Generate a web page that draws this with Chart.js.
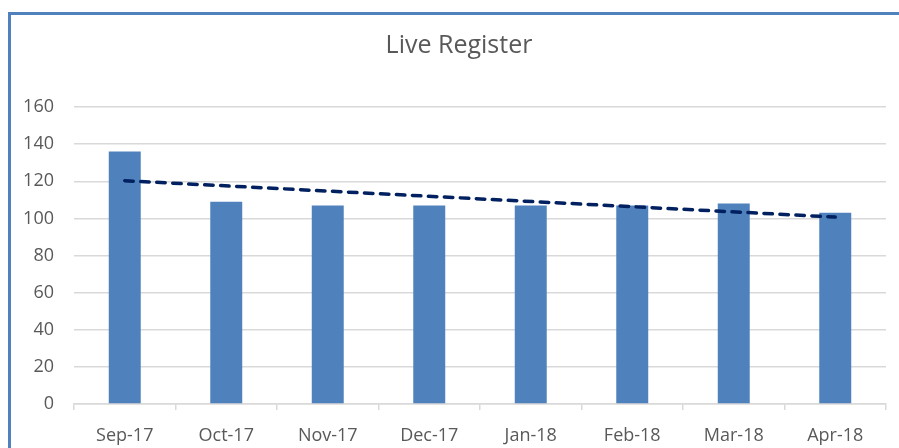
<!DOCTYPE html>
<html>
<head>
<meta charset="utf-8">
<script src="https://cdn.jsdelivr.net/npm/chart.js@4"></script>
<style>
  html, body { margin: 0; padding: 0; background: #ffffff; overflow: hidden; }
  #wrap { position: relative; width: 899px; height: 448px; overflow: hidden; }
  #frame { position: absolute; left: 8px; top: 12px; width: 1000px; height: 1000px;
           border: 3px solid #4F81BD; box-sizing: border-box; pointer-events: none; }
  canvas { position: absolute; left: 0; top: 0; }
</style>
</head>
<body>
<div id="wrap">
  <canvas id="c" width="899" height="448"></canvas>
  <div id="frame"></div>
</div>
<script>
const categories = ["Sep-17", "Oct-17", "Nov-17", "Dec-17", "Jan-18", "Feb-18", "Mar-18", "Apr-18"];
const liveRegister = [136, 109, 107, 107, 107, 107, 108, 103];
// linear trendline endpoints
const trendline = [120.3, null, null, null, null, null, null, 100.7];
const yTicks = { min: 0, max: 160, step: 20 };
const chartTitle = "Live Register";

const textColor = "#595959";
const gridColor = "#d9d9d9";

// Chart title, centred over the whole chart frame (which extends past the window on the right)
const frameTitle = {
  id: "frameTitle",
  afterDraw(chart) {
    const ctx = chart.ctx;
    ctx.save();
    ctx.fillStyle = textColor;
    ctx.font = "25px 'Open Sans'";
    ctx.textAlign = "center";
    ctx.textBaseline = "middle";
    ctx.fillText(chartTitle, 459, 46);
    ctx.restore();
  }
};

new Chart(document.getElementById("c"), {
  data: {
    labels: categories,
    datasets: [
      {
        type: "line",
        label: "Linear (Live Register)",
        data: trendline,
        spanGaps: true,
        borderColor: "#002060",
        borderWidth: 3.5,
        borderDash: [8.5, 7.5],
        borderCapStyle: "round",
        pointRadius: 0,
        fill: false,
        order: 0
      },
      {
        type: "bar",
        label: "Live Register",
        data: liveRegister,
        backgroundColor: "#4F81BD",
        borderWidth: 0,
        barPercentage: 0.315,
        categoryPercentage: 1.0,
        order: 1
      }
    ]
  },
  plugins: [frameTitle],
  options: {
    responsive: false,
    animation: false,
    devicePixelRatio: 1,
    layout: { padding: { left: 10, right: 13, top: 107, bottom: 0 } },
    plugins: {
      legend: { display: false },
      tooltip: { enabled: false },
      title: { display: false }
    },
    scales: {
      x: {
        offset: true,
        grid: {
          display: true,
          drawOnChartArea: false,
          drawTicks: true,
          tickLength: 6,
          color: gridColor,
          lineWidth: 1.5
        },
        border: { display: true, color: gridColor, width: 1.5 },
        ticks: {
          color: textColor,
          font: { family: "'Open Sans'", size: 18 },
          padding: 15,
          maxRotation: 0
        },
        afterFit: (s) => { s.height = 44; }
      },
      y: {
        min: yTicks.min,
        max: yTicks.max,
        ticks: {
          stepSize: yTicks.step,
          color: textColor,
          font: { family: "'Open Sans'", size: 18 },
          padding: 20
        },
        grid: { color: gridColor, lineWidth: 1.5, drawTicks: false },
        border: { display: false },
        afterFit: (s) => { s.width = 64; }
      }
    }
  }
});
</script>
</body>
</html>
